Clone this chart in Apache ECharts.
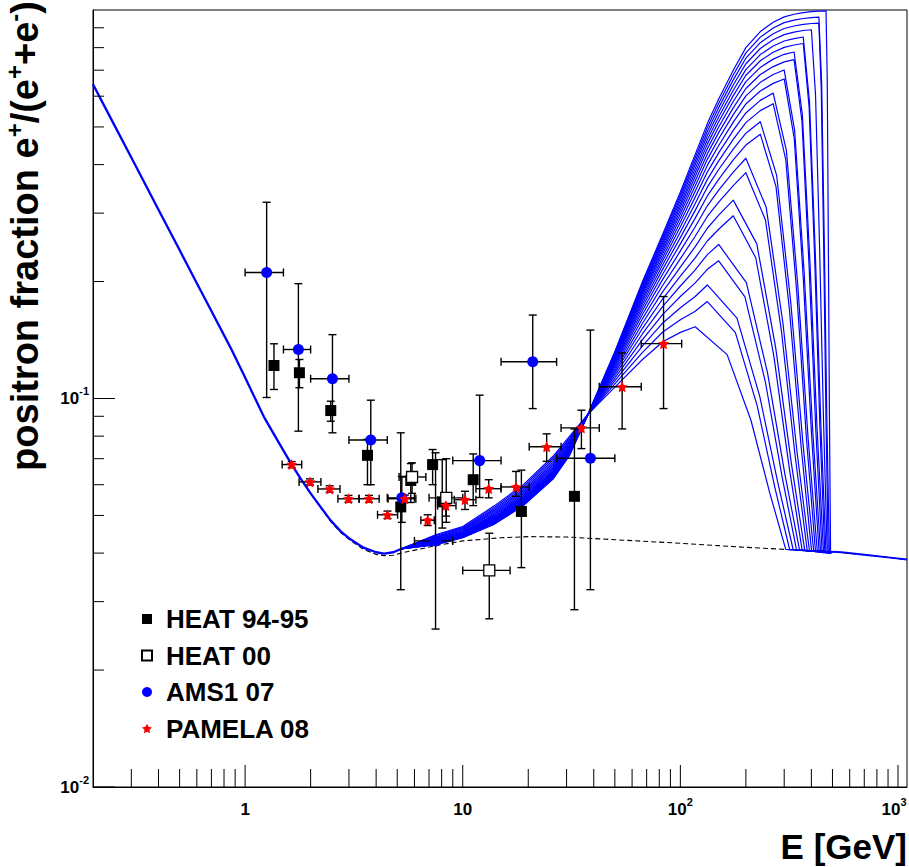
<!DOCTYPE html>
<html><head><meta charset="utf-8">
<script src="https://cdn.jsdelivr.net/npm/echarts@6/dist/echarts.min.js"></script>
<style>html,body{margin:0;padding:0;background:#fff}#c{width:909px;height:867px}</style>
</head><body><div id="c"></div>
<script>
// ---------------- data ----------------
const X_MIN = 0.2, X_MAX = 1100, Y_MIN = 0.01, Y_MAX = 1.0;

// axis ticks and labels
const xMajorTicks = [1, 10, 100, 1000];
const xMajorBase  = ['1', '10', '10', '10'];
const xMajorExp   = ['', '', '2', '3'];
const xMinorTicks = [0.3,0.4,0.5,0.6,0.7,0.8,0.9, 2,3,4,5,6,7,8,9, 20,30,40,50,60,70,80,90, 200,300,400,500,600,700,800,900];
const yMajorTicks = [0.01, 0.1];
const yMajorBase  = ['10', '10'];
const yMajorExp   = ['-2', '-1'];
const yMinorTicks = [0.02,0.03,0.04,0.05,0.06,0.07,0.08,0.09, 0.2,0.3,0.4,0.5,0.6,0.7,0.8,0.9];

// background (dashed) positron fraction
const bgE = [0.2,0.25,0.3,0.4,0.5,0.6,0.7,0.858,1.0,1.22,1.4,1.637,1.8,2.0,2.2,2.475,2.75,3.0,3.5,4.0,4.35,4.8,5.2,7.5,10,15,20,30,50,100,150,200,300,400,500,700,1100];
const bgF = [0.644,0.507,0.417,0.306,0.241,0.198,0.168,0.135,0.1132,0.0897,0.0785,0.0675,0.0621,0.0569,0.0528,0.0482,0.0452,0.0434,0.0409,0.0397,0.0394,0.0395,0.0400,0.0418,0.0430,0.0438,0.0441,0.0440,0.0433,0.0424,0.0418,0.0414,0.0409,0.0406,0.0403,0.0396,0.0385];

// common low-energy part of all model curves
const leftE = [0.2,0.25,0.3,0.4,0.5,0.6,0.7,0.858,1.0,1.22,1.4,1.637,1.8,2.0,2.2,2.475,2.75,3.0,3.5,4.0,4.35,4.8,5.2];
const leftF = [0.644,0.507,0.417,0.306,0.241,0.198,0.168,0.135,0.1132,0.0897,0.0785,0.0676,0.0622,0.0570,0.0530,0.0485,0.0455,0.0437,0.0413,0.0402,0.0399,0.0402,0.0410];

// common high-energy tail of all model curves
const tailE = [500, 550, 700, 900, 1100];
const tailF = [0.0403, 0.0402, 0.0396, 0.0390, 0.0385];

// family of model curves [E, fraction]
const fanCurves = [
[[5.2,.041],[7.5,.0446],[10,.0468],[14,.053],[19,.060],[26,.071],[31,.080],[37.6,.091],[50,.107],[67,.126],[83,.140],[100,.148],[117,.153],[164,.1297],[211,.0879],[258,.0569],[305,.0409],[500,.0403]],
[[5.2,.041],[7.5,.0444],[10,.0465],[14,.0525],[19,.0594],[26,.0702],[31,.0792],[37.6,.091],[50,.109],[67,.1314],[83,.1483],[100,.1595],[117,.1677],[133,.1776],[179,.1478],[225.5,.0957],[272,.0589],[318,.0408],[500,.0403]],
[[5.2,.041],[7.5,.0441],[10,.0463],[14,.052],[19,.0588],[26,.0694],[31,.0785],[37.6,.091],[50,.111],[67,.1366],[83,.1565],[100,.1712],[117,.183],[133,.196],[182,.1611],[231.5,.1014],[281,.0604],[330,.0408],[500,.0403]],
[[5.2,.041],[7.5,.0439],[10,.046],[14,.0516],[19,.0582],[26,.0687],[31,.0778],[37.6,.091],[50,.1129],[67,.1418],[83,.1647],[100,.183],[117,.1985],[133,.215],[150,.2262],[198,.1827],[246,.1101],[294,.0625],[342,.0407],[500,.0403]],
[[5.2,.041],[7.5,.0437],[10,.0458],[14,.0512],[19,.0577],[26,.068],[31,.0772],[37.6,.091],[50,.1147],[67,.1468],[83,.1727],[100,.1948],[117,.2143],[133,.2346],[150,.2492],[201,.1987],[251.5,.1164],[302,.064],[353,.0407],[500,.0403]],
[[5.2,.041],[7.5,.0436],[10,.0456],[14,.0508],[19,.0572],[26,.0674],[31,.0766],[37.6,.091],[50,.1164],[67,.1516],[83,.1806],[100,.2064],[117,.2302],[133,.2543],[150,.2727],[175,.2953],[222,.2303],[269,.1283],[316,.0667],[363,.0406],[500,.0403]],
[[5.2,.041],[7.5,.0434],[10,.0454],[14,.0504],[19,.0567],[26,.0668],[31,.076],[37.6,.091],[50,.118],[67,.1562],[83,.1884],[100,.2179],[117,.246],[133,.2743],[150,.2965],[175,.3241],[224.5,.25],[274,.1354],[323.5,.0682],[373,.0406],[500,.0403]],
[[5.2,.041],[7.5,.0432],[10,.0452],[14,.0501],[19,.0563],[26,.0663],[31,.0755],[37.6,.091],[50,.1195],[67,.1606],[83,.1957],[100,.229],[117,.2616],[133,.2941],[150,.3202],[175,.3533],[200,.3813],[246,.288],[291.5,.1487],[337,.071],[383,.0405],[500,.0403]],
[[5.2,.041],[7.5,.0431],[10,.0451],[14,.0498],[19,.0559],[26,.0658],[31,.0751],[37.6,.091],[50,.1209],[67,.1647],[83,.2026],[100,.2398],[117,.2767],[133,.3133],[150,.3437],[175,.3826],[200,.4154],[248,.3105],[296,.1562],[344,.0725],[392,.0405],[500,.0403]],
[[5.2,.041],[7.5,.043],[10,.0449],[14,.0495],[19,.0556],[26,.0653],[31,.0746],[37.6,.091],[50,.1221],[67,.1685],[83,.2092],[100,.25],[117,.2912],[133,.3322],[150,.3666],[175,.4111],[200,.4491],[233,.479],[275,.3516],[317,.1696],[359,.075],[401,.0404],[500,.0403]],
[[5.2,.041],[7.5,.0428],[10,.0448],[14,.0493],[19,.0553],[26,.0649],[31,.0743],[37.6,.091],[50,.1233],[67,.172],[83,.2153],[100,.2595],[117,.3049],[133,.3499],[150,.3885],[175,.4385],[200,.4818],[233,.5159],[277,.3751],[321.5,.177],[366,.0764],[410,.0404],[500,.0403]],
[[5.2,.041],[7.5,.0427],[10,.0447],[14,.0491],[19,.055],[26,.0646],[31,.0739],[37.6,.091],[50,.1243],[67,.1753],[83,.2209],[100,.2683],[117,.3176],[133,.3665],[150,.409],[175,.4645],[200,.5129],[233,.5508],[267,.574],[305,.4118],[342.5,.1881],[380,.0783],[418,.0403],[500,.0403]],
[[5.2,.041],[7.5,.0426],[10,.0445],[14,.0489],[19,.0547],[26,.0642],[31,.0736],[37.6,.091],[50,.1253],[67,.1784],[83,.2262],[100,.2766],[117,.3299],[133,.3826],[150,.4288],[175,.4899],[200,.5433],[233,.5853],[267,.611],[307,.4349],[346.5,.1951],[386,.0795],[426,.0403],[500,.0403]],
[[5.2,.041],[7.5,.0426],[10,.0444],[14,.0487],[19,.0545],[26,.0639],[31,.0733],[37.6,.091],[50,.1262],[67,.1812],[83,.2311],[100,.2845],[117,.3415],[133,.3981],[150,.448],[175,.5147],[200,.573],[233,.6189],[267,.6473],[300,.6645],[333.5,.4681],[367,.2046],[400.5,.0811],[434,.0402],[500,.0403]],
[[5.2,.041],[7.5,.0425],[10,.0444],[14,.0485],[19,.0543],[26,.0637],[31,.0731],[37.6,.091],[50,.127],[67,.1838],[83,.2357],[100,.2919],[117,.3525],[133,.4126],[150,.4663],[175,.538],[200,.6013],[233,.6514],[267,.6822],[300,.7006],[335,.4903],[370.5,.211],[406,.0821],[441,.0402],[500,.0403]],
[[5.2,.041],[7.5,.0424],[10,.0443],[14,.0484],[19,.0541],[26,.0634],[31,.0728],[37.6,.091],[50,.1278],[67,.1862],[83,.24],[100,.2988],[117,.3627],[133,.4262],[150,.4834],[175,.56],[200,.6281],[233,.6821],[267,.7151],[300,.7352],[333,.745],[362,.5171],[390.5,.2184],[419,.0832],[448,.0401],[500,.0403]],
[[5.2,.041],[7.5,.0423],[10,.0442],[14,.0482],[19,.0539],[26,.0632],[31,.0726],[37.6,.091],[50,.1285],[67,.1884],[83,.244],[100,.3053],[117,.3726],[133,.4391],[150,.4998],[175,.5814],[200,.6542],[233,.7117],[267,.7474],[300,.7691],[333,.7795],[363.5,.5379],[394,.2241],[424.5,.0842],[455,.0401],[500,.0403]],
[[5.2,.041],[7.5,.0423],[10,.0441],[14,.0481],[19,.0537],[26,.0629],[31,.0724],[37.6,.091],[50,.1291],[67,.1905],[83,.2478],[100,.3115],[117,.3819],[133,.4516],[150,.5156],[175,.6019],[200,.6791],[233,.7404],[267,.7786],[300,.8014],[333,.8126],[367,.82],[390.5,.5623],[414,.2309],[437.5,.0853],[461,.0401],[500,.0403]],
[[5.2,.041],[7.5,.0422],[10,.0441],[14,.048],[19,.0536],[26,.0628],[31,.0722],[37.6,.091],[50,.1297],[67,.1925],[83,.2513],[100,.3173],[117,.3906],[133,.4633],[150,.5304],[175,.6213],[200,.7025],[233,.7677],[267,.8081],[300,.8322],[333,.8443],[367,.8521],[392,.5813],[417,.2359],[442,.0859],[467,.04],[500,.0403]],
[[5.2,.041],[7.5,.0422],[10,.044],[14,.0478],[19,.0534],[26,.0626],[31,.072],[37.6,.091],[50,.1303],[67,.1944],[83,.2548],[100,.3232],[117,.3994],[133,.4752],[150,.5456],[175,.6412],[200,.7272],[233,.796],[267,.8387],[300,.8643],[333,.877],[367,.8855],[400,.8896],[418,.6036],[436.5,.2417],[455,.0869],[473,.04],[500,.0403]],
[[5.2,.041],[7.5,.0421],[10,.0439],[14,.0477],[19,.0533],[26,.0624],[31,.0718],[37.6,.091],[50,.1309],[67,.1963],[83,.2583],[100,.329],[117,.4081],[133,.4869],[150,.5606],[175,.6608],[200,.7516],[233,.824],[267,.8691],[300,.8962],[333,.9096],[367,.9186],[400,.9231],[433,.9256],[444,.625],[455.5,.2473],[467,.0877],[478,.04],[500,.0403]],
[[5.2,.041],[7.5,.0421],[10,.0439],[14,.0476],[19,.0531],[26,.0622],[31,.0717],[37.6,.091],[50,.1315],[67,.1982],[83,.2617],[100,.3345],[117,.4165],[133,.4982],[150,.5751],[175,.6802],[200,.7754],[233,.8515],[267,.8991],[300,.9277],[333,.9417],[367,.951],[400,.9559],[433,.9587],[446,.6443],[458.5,.2522],[471,.0884],[484,.0399],[500,.0403]],
[[5.2,.041],[7.5,.042],[10,.0438],[14,.0475],[19,.053],[26,.062],[31,.0715],[37.6,.091],[50,.132],[67,.2],[83,.265],[100,.34],[117,.425],[133,.51],[150,.59],[175,.7],[200,.8],[233,.88],[267,.93],[300,.96],[333,.975],[367,.985],[400,.99],[433,.993],[467,.995],[473,.6655],[478.5,.2577],[484.25,.0892],[490,.0399],[500,.0403]]
];

// HEAT 94-95
const heatE  = [1.357, 1.776, 2.475, 3.65, 5.19, 5.77, 7.27, 8.05, 11.17, 18.6, 32.6];
const heatF  = [0.1216, 0.1165, 0.0931, 0.0714, 0.0526, 0.0615, 0.0676, 0.0542, 0.0618, 0.0512, 0.056];
const heatLo = [0.1055, 0.1066, 0.0874, 0.060, 0.0322, 0.054, 0.060, 0.0464, 0.053, 0.0367, 0.0286];
const heatHi = [0.1383, 0.126, 0.0984, 0.0785, 0.0816, 0.068, 0.0739, 0.0696, 0.072, 0.0654, 0.0835];

// HEAT 00
const heat00E   = [5.85, 8.4, 13.24];
const heat00F   = [0.0628, 0.0555, 0.0361];
const heat00Lo  = [0.057, 0.048, 0.0271];
const heat00Hi  = [0.0683, 0.070, 0.045];
const heat00ELo = [5.1, 7.0, 10.0];
const heat00EHi = [6.77, 10.0, 16.5];

// AMS1 07
const amsE   = [1.256, 1.757, 2.52, 3.78, 5.25, 7.5, 11.96, 20.97, 38.6];
const amsF   = [0.211, 0.1337, 0.1124, 0.0782, 0.0555, 0.043, 0.0692, 0.1243, 0.0702];
const amsLo  = [0.1006, 0.0824, 0.0816, 0.060, 0.048, 0.0255, 0.0556, 0.0942, 0.0322];
const amsHi  = [0.32, 0.1975, 0.146, 0.099, 0.063, 0.0725, 0.102, 0.164, 0.15];
const amsELo = [1.0, 1.5, 2.0, 3.0, 4.5, 6.0, 9.0, 15.0, 27.0];
const amsEHi = [1.5, 2.0, 3.0, 4.5, 6.0, 9.0, 15.0, 27.0, 50.0];

// PAMELA 08
const pamE   = [1.637, 1.987, 2.448, 2.985, 3.71, 4.51, 5.42, 6.9, 8.37, 10.24, 13.16, 17.57, 24.3, 35.1, 54.0, 83.7];
const pamF   = [0.0676, 0.061, 0.0585, 0.0552, 0.0552, 0.0502, 0.0552, 0.0486, 0.053, 0.0549, 0.0586, 0.0592, 0.0751, 0.084, 0.1072, 0.1384];
const pamLo  = [0.0664, 0.0599, 0.0574, 0.0541, 0.0541, 0.0491, 0.054, 0.0471, 0.0498, 0.0518, 0.0555, 0.056, 0.0689, 0.0743, 0.0835, 0.0942];
const pamHi  = [0.0688, 0.0621, 0.0596, 0.0563, 0.0563, 0.0513, 0.0564, 0.0502, 0.0571, 0.0577, 0.0618, 0.0649, 0.0811, 0.0933, 0.131, 0.183];
const pamELo = [1.48, 1.77, 2.16, 2.67, 3.34, 4.06, 4.54, 6.42, 7.67, 9.14, 11.5, 15.0, 20.2, 28.3, 42.4, 66.1];
const pamEHi = [1.82, 2.23, 2.73, 3.34, 4.13, 5.02, 6.09, 7.40, 9.31, 11.5, 15.0, 20.2, 28.3, 42.4, 66.1, 101.4];

const seriesNames = ['HEAT 94-95', 'HEAT 00', 'AMS1 07', 'PAMELA 08'];
const yTitle = 'positron fraction e{s|+}/(e{s|+}+e{s|-})';
const xTitle = 'E [GeV]';

// ---------------- drawing ----------------
const FONT = '"Liberation Sans", Arial, Helvetica, sans-serif';
const STAR = 'path://M0,-10L2.94,-4.05L9.51,-3.09L4.76,1.55L5.88,8.09L0,5L-5.88,8.09L-4.76,1.55L-9.51,-3.09L-2.94,-4.05Z';
const zip = (a, b) => a.map((v, i) => [v, b[i]]);

function lineSeries(data, color, width, type, z) {
  return { type: 'line', data, symbol: 'none', showSymbol: false, silent: true, animation: false, z,
    smooth: false, lineStyle: { color, width, type, opacity: 1, join: 'round' }, emphasis: { disabled: true } };
}
function errSeries(rows, z) {
  return { type: 'custom', data: rows, z, silent: true, animation: false,
    dimensions: ['E', 'f', 'lo', 'hi', 'elo', 'ehi'], encode: { x: 0, y: 1 },
    renderItem(params, api) {
      const E = api.value(0), f = api.value(1), lo = api.value(2), hi = api.value(3);
      const el = api.value(4), eh = api.value(5);
      const st = { stroke: '#000', lineWidth: 1.4 };
      const cap = 4, ch = [];
      const a = api.coord([E, lo]), b = api.coord([E, hi]);
      ch.push({ type: 'line', shape: { x1: a[0], y1: a[1], x2: b[0], y2: b[1] }, style: st });
      ch.push({ type: 'line', shape: { x1: a[0] - cap, y1: a[1], x2: a[0] + cap, y2: a[1] }, style: st });
      ch.push({ type: 'line', shape: { x1: b[0] - cap, y1: b[1], x2: b[0] + cap, y2: b[1] }, style: st });
      if (el > 0 && eh > 0) {
        const l = api.coord([el, f]), r = api.coord([eh, f]);
        ch.push({ type: 'line', shape: { x1: l[0], y1: l[1], x2: r[0], y2: r[1] }, style: st });
        ch.push({ type: 'line', shape: { x1: l[0], y1: l[1] - cap, x2: l[0], y2: l[1] + cap }, style: st });
        ch.push({ type: 'line', shape: { x1: r[0], y1: r[1] - cap, x2: r[0], y2: r[1] + cap }, style: st });
      }
      return { type: 'group', children: ch };
    } };
}
function xTicks(vals, len) {
  return { type: 'custom', data: vals.map(v => [v, Y_MIN]), z: 6, silent: true, animation: false, clip: false,
    renderItem(p, api) { const c = api.coord([api.value(0), api.value(1)]);
      return { type: 'line', shape: { x1: c[0], y1: c[1], x2: c[0], y2: c[1] - len }, style: { stroke: '#000', lineWidth: 1 } }; } };
}
function yTicks(vals, len) {
  return { type: 'custom', data: vals.map(v => [X_MIN, v]), z: 6, silent: true, animation: false, clip: false,
    renderItem(p, api) { const c = api.coord([api.value(0), api.value(1)]);
      return { type: 'line', shape: { x1: c[0], y1: c[1], x2: c[0] + len, y2: c[1] }, style: { stroke: '#000', lineWidth: 1 } }; } };
}
function labelFor(v, ticks, base, exp, lastShift) {
  const i = ticks.findIndex(t => Math.abs(Math.log10(v) - Math.log10(t)) < 1e-6);
  if (i < 0) return '';
  const sTag = (lastShift && i === ticks.length - 1) ? 'z' : 's';
  return '{b|' + base[i] + '}' + (exp[i] ? '{' + sTag + '|' + exp[i] + '}' : '');
}
const richLab = {
  b: { fontFamily: FONT, fontWeight: 'bold', fontSize: 17, color: '#000', lineHeight: 26, verticalAlign: 'middle' },
  s: { fontFamily: FONT, fontWeight: 'bold', fontSize: 11, color: '#000', lineHeight: 14, verticalAlign: 'top' },
  z: { fontFamily: FONT, fontWeight: 'bold', fontSize: 11, color: '#000', lineHeight: 14, verticalAlign: 'top', padding: [0, 8, 0, 0] }
};

const series = [];
series.push(lineSeries(zip(bgE, bgF), '#000', 1.1, [5, 3], 1));
fanCurves.forEach(c => series.push(lineSeries(c, '#0000ff', 1.2, 'solid', 2)));
series.push(lineSeries(zip(leftE, leftF), '#0000ff', 2.3, 'solid', 2));
series.push(lineSeries(zip(tailE, tailF), '#0000ff', 2, 'solid', 2));

series.push(errSeries(heatE.map((e, i) => [e, heatF[i], heatLo[i], heatHi[i]]), 3));
series.push(errSeries(heat00E.map((e, i) => [e, heat00F[i], heat00Lo[i], heat00Hi[i], heat00ELo[i], heat00EHi[i]]), 3));
series.push(errSeries(amsE.map((e, i) => [e, amsF[i], amsLo[i], amsHi[i], amsELo[i], amsEHi[i]]), 3));
series.push(errSeries(pamE.map((e, i) => [e, pamF[i], pamLo[i], pamHi[i], pamELo[i], pamEHi[i]]), 3));

const sc = (name, data, symbol, size, itemStyle) => ({ type: 'scatter', name, data, symbol, symbolSize: size,
  itemStyle: Object.assign({ opacity: 1 }, itemStyle), z: 4, silent: true, animation: false, emphasis: { disabled: true } });
series.push(sc(seriesNames[0], zip(heatE, heatF), 'rect', 11, { color: '#000' }));
series.push(sc(seriesNames[1], zip(heat00E, heat00F), 'rect', 11, { color: '#fff', borderColor: '#000', borderWidth: 1.3 }));
series.push(sc(seriesNames[2], zip(amsE, amsF), 'circle', 11, { color: '#0000ff' }));
series.push(sc(seriesNames[3], zip(pamE, pamF), STAR, 11, { color: '#ff0000' }));

series.push(xTicks(xMajorTicks, 22));
series.push(xTicks(xMinorTicks, 18));
series.push(yTicks(yMajorTicks, 22));
series.push(yTicks(yMinorTicks, 11));

const chart = echarts.init(document.getElementById('c'), null, { renderer: 'svg' });
chart.setOption({
  animation: false,
  backgroundColor: '#fff',
  grid: { left: 93, right: 2, top: 10, bottom: 80, show: true, borderColor: '#000', borderWidth: 1,
          containLabel: false, outerBoundsMode: 'none' },
  xAxis: { type: 'log', logBase: 10, min: X_MIN, max: X_MAX,
    axisLine: { show: true, lineStyle: { color: '#000', width: 1 } }, axisTick: { show: false },
    splitLine: { show: false }, minorTick: { show: false },
    axisLabel: { show: true, margin: 9, showMinLabel: true, showMaxLabel: true, hideOverlap: false,
      formatter: v => labelFor(v, xMajorTicks, xMajorBase, xMajorExp, true), rich: richLab } },
  yAxis: { type: 'log', logBase: 10, min: Y_MIN, max: Y_MAX,
    axisLine: { show: true, lineStyle: { color: '#000', width: 1 } }, axisTick: { show: false },
    splitLine: { show: false }, minorTick: { show: false },
    axisLabel: { show: true, margin: 4, hideOverlap: false,
      formatter: v => labelFor(v, yMajorTicks, yMajorBase, yMajorExp, false), rich: richLab } },
  legend: { orient: 'vertical', left: 136, top: 601, itemWidth: 10, itemHeight: 10, itemGap: 10.5,
    selectedMode: false, padding: 5,
    data: [{ name: seriesNames[0], icon: 'rect' }, { name: seriesNames[1], icon: 'rect' },
           { name: seriesNames[2], icon: 'circle' }, { name: seriesNames[3], icon: STAR }],
    textStyle: { fontFamily: FONT, fontWeight: 'bold', fontSize: 26, color: '#000', padding: [0, 0, 0, 9] } },
  graphic: [
    { type: 'text', x: 25, y: 1, rotation: Math.PI / 2, z: 10,
      style: { text: yTitle, fontFamily: FONT, fontWeight: 'bold', fontSize: 38, fill: '#000', lineHeight: 46,
        align: 'right', verticalAlign: 'middle',
        rich: { s: { fontFamily: FONT, fontWeight: 'bold', fontSize: 24, fill: '#000', lineHeight: 24, verticalAlign: 'top' } } } },
    { type: 'text', x: 907, y: 846, z: 10,
      style: { text: xTitle, fontFamily: FONT, fontWeight: 'bold', fontSize: 35, fill: '#000', align: 'right', verticalAlign: 'middle' } }
  ],
  series
});
</script></body></html>
